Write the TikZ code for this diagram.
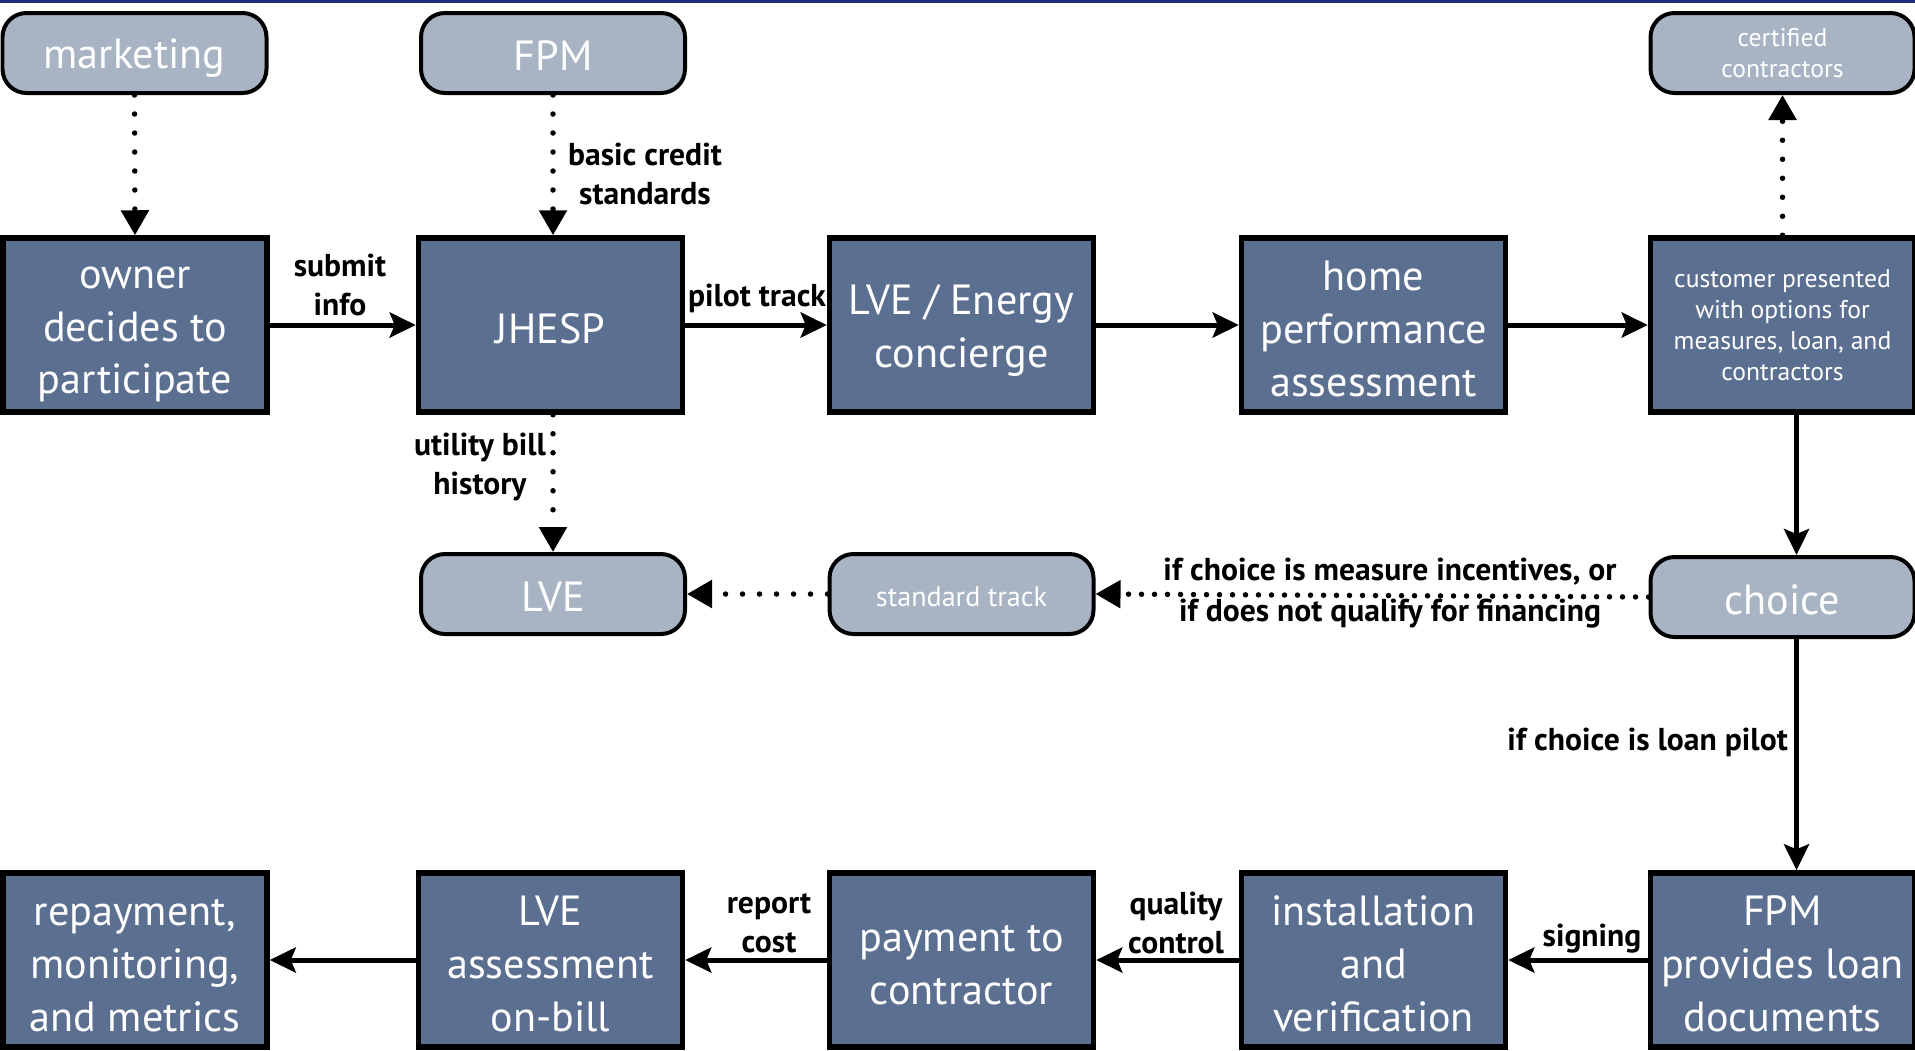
\documentclass[tikz,border=0pt]{standalone}
\usepackage{fontspec}
\setmainfont{PT Sans}
\usetikzlibrary{arrows.meta}
\definecolor{boxblue}{HTML}{5B6F90}
\definecolor{pillgray}{HTML}{A8B3C3}
\definecolor{navyband}{HTML}{1F2C7C}
\newcommand\myts{\rule{0pt}{11.5pt}}
\newcommand\mybs{\rule[-1.1pt]{0pt}{1.1pt}}
\newcommand\mypts{\rule{0pt}{11.4pt}}
\newcommand\mypbs{\rule[-1.6pt]{0pt}{1.6pt}}
\tikzset{
 stepbox/.style={draw=black, line width=0.055cm, fill=boxblue, minimum width=2.64cm, minimum height=1.74cm, text=white, align=center, font=\fontsize{12}{15}\selectfont, inner sep=0pt},
 pill/.style={draw=black, line width=0.04cm, fill=pillgray, rounded corners=0.24cm, minimum width=2.64cm, minimum height=0.8cm, text=white, align=center, font=\fontsize{12}{15}\selectfont, inner sep=0pt},
 smalltxt/.style={font=\fontsize{7.3}{8.8}\selectfont},
 flow/.style={line width=0.05cm, -{Stealth[length=0.26cm,width=0.25cm,inset=0.05cm]}},
 dotflow/.style={line width=0.055cm, dash pattern=on 0pt off 0.19cm, line cap=round, -{Triangle[length=0.25cm,width=0.27cm]}},
 lbl/.style={font=\bfseries\fontsize{9}{11}\selectfont, align=center, text=black, inner sep=1pt},
}
\begin{document}
\begin{tikzpicture}
\useasboundingbox (0,0) rectangle (19.15,-10.5);
\fill[white] (0,0) rectangle (19.15,-10.5);
\fill[navyband] (0,0) rectangle (19.15,-0.03);

% top row pills
\node[pill] (marketing) at (1.345,-0.53) {\mypts marketing\mypbs};
\node[pill] (fpmtop) at (5.53,-0.53) {\mypts FPM\mypbs};
\node[pill, smalltxt] (cert) at (17.825,-0.53) {certified\\contractors};

% row 1 boxes
\node[stepbox] (owner) at (1.35,-3.25) {\myts owner\\decides to\\participate\mybs};
\node[stepbox] (jhesp) at (5.505,-3.25) {\myts JHESP\mybs};
\node[stepbox] (lveec) at (9.615,-3.25) {\myts LVE / Energy\\concierge\mybs};
\node[stepbox] (home) at (13.735,-3.25) {\myts home\\performance\\assessment\mybs};
\node[stepbox, smalltxt] (cust) at (17.825,-3.25) {customer presented\\with options for\\measures, loan, and\\contractors};

% row 2 pills
\node[pill] (lve) at (5.53,-5.94) {\mypts LVE\mypbs};
\node[pill, font=\fontsize{8}{10}\selectfont] (std) at (9.615,-5.94) {\rule{0pt}{7.5pt}standard track\rule[-0.3pt]{0pt}{0.3pt}};
\node[pill] (choice) at (17.825,-5.97) {\mypts choice\mypbs};

% row 3 boxes
\node[stepbox] (repay) at (1.35,-9.6) {\myts repayment,\\monitoring,\\and metrics\mybs};
\node[stepbox] (lveab) at (5.505,-9.6) {\myts LVE\\assessment\\on-bill\mybs};
\node[stepbox] (pay) at (9.615,-9.6) {\myts payment to\\contractor\mybs};
\node[stepbox] (inst) at (13.735,-9.6) {\myts installation\\and\\verification\mybs};
\node[stepbox] (fpml) at (17.825,-9.6) {\myts FPM\\provides loan\\documents\mybs};

% connectors
\draw[dotflow] (marketing.south) -- (owner.north);
\draw[dotflow] (fpmtop.south) -- (fpmtop.south |- jhesp.north);
\draw[flow] (owner) -- (jhesp);
\draw[flow] (jhesp) -- (lveec);
\draw[flow] (lveec) -- (home);
\draw[flow] (home) -- (cust);
\draw[dotflow] (cust.north) -- (cert.south);
\draw[dotflow] (lve.north |- jhesp.south) -- (lve.north);
\draw[flow] ([xshift=0.14cm]cust.south) -- ([xshift=0.14cm]choice.north);
\draw[dotflow, dash pattern=on 0pt off 0.13cm] (choice.west) -- (std.east);
\draw[dotflow, dash pattern=on 0pt off 0.17cm] (std.west) -- (lve.east);
\draw[flow] ([xshift=0.14cm]choice.south) -- ([xshift=0.14cm]fpml.north);
\draw[flow] (fpml) -- (inst);
\draw[flow] (inst) -- (pay);
\draw[flow] (pay) -- (lveab);
\draw[flow] (lveab) -- (repay);

% labels
\node[lbl] (lsubmit) at (3.40,-2.85) {submit\\info};
\node[lbl] (lbasic) at (6.45,-1.74) {basic credit\\standards};
\node[lbl] (lpilot) at (7.57,-2.98) {pilot track};
\node[lbl] (lutil) at (4.80,-4.67) {utility bill\\history};
\node[lbl] (lif1) at (13.90,-5.72) {if choice is measure incentives, or};
\node[lbl] (lif2) at (13.90,-6.14) {if does not qualify for financing};
\node[lbl, anchor=east] (lloan) at (17.92,-7.42) {if choice is loan pilot};
\node[lbl] (lsign) at (15.92,-9.385) {signing};
\node[lbl] (lqual) at (11.76,-9.23) {quality\\control};
\node[lbl] (lreport) at (7.69,-9.23) {report\\cost};
\end{tikzpicture}
\end{document}
